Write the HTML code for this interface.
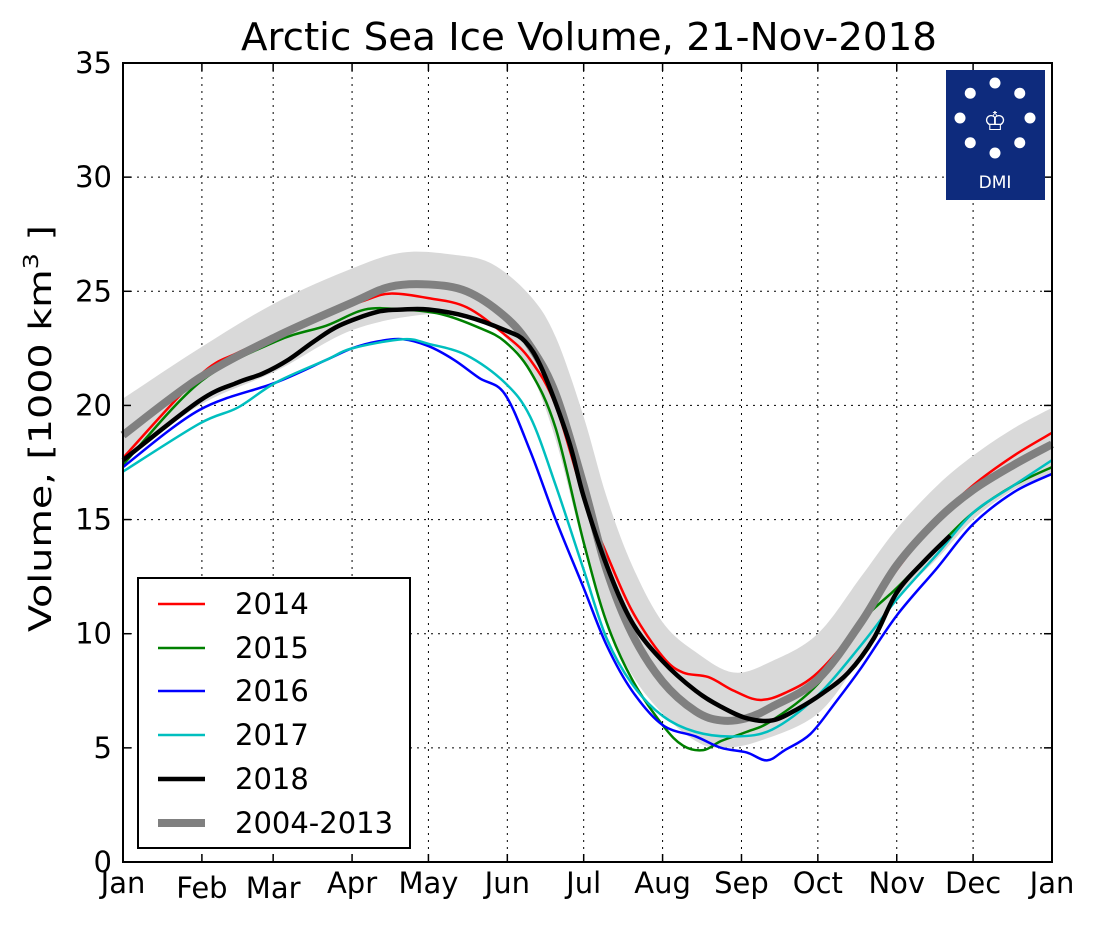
<!DOCTYPE html>
<html><head><meta charset="utf-8">
<style>
body{margin:0;background:#fff;}
svg text{font-family:"DejaVu Sans","Liberation Sans",sans-serif;fill:#000;}
</style></head><body>
<svg id="s" width="1098" height="928" viewBox="0 0 1098 928" xmlns="http://www.w3.org/2000/svg">
<rect width="1098" height="928" fill="#fff"/>
<g id="grid"></g>
<path id="band" fill="#d9d9d9" stroke="none"/>
<g id="lines"></g>
<rect x="123" y="63" width="929" height="799" fill="none" stroke="#000" stroke-width="2"/>
<g id="ticks"></g>
<text x="241" y="50" font-size="38" textLength="696" lengthAdjust="spacingAndGlyphs">Arctic Sea Ice Volume, 21-Nov-2018</text>
<text transform="translate(51,632) rotate(-90)" font-size="31" textLength="407" lengthAdjust="spacingAndGlyphs">Volume, [1000 km<tspan dy="-13" font-size="20">3</tspan><tspan dy="13"> ]</tspan></text>
<g>
<rect x="946" y="70" width="99" height="130" fill="#0e2b7d"/>
<g fill="#fff" id="dots"></g>
<text x="995" y="188" font-size="17" text-anchor="middle" style="fill:#fff">DMI</text>
<text x="995" y="130" font-size="26" text-anchor="middle" style="fill:#fff">♔</text>
</g>
<g>
<rect x="138" y="578" width="272" height="270" fill="#fff" stroke="#000" stroke-width="2"/>
<g font-size="29">
<line x1="158" y1="604" x2="205" y2="604" stroke="#f00" stroke-width="2.5"/><text x="235" y="614">2014</text>
<line x1="158" y1="648" x2="205" y2="648" stroke="#008000" stroke-width="2.5"/><text x="235" y="658">2015</text>
<line x1="158" y1="691" x2="205" y2="691" stroke="#00f" stroke-width="2.5"/><text x="235" y="701">2016</text>
<line x1="158" y1="735" x2="205" y2="735" stroke="#00bfbf" stroke-width="2.5"/><text x="235" y="745">2017</text>
<line x1="158" y1="779" x2="205" y2="779" stroke="#000" stroke-width="4.5"/><text x="235" y="789">2018</text>
<line x1="158" y1="823" x2="205" y2="823" stroke="#808080" stroke-width="8"/><text x="235" y="833">2004-2013</text>
</g>
</g>
</svg>
<script>
var NS="http://www.w3.org/2000/svg";
function X(d){return 123+d*929/365;}
function Y(v){return 862-v*799/35;}
function el(p,t,a){var e=document.createElementNS(NS,t);for(var k in a)e.setAttribute(k,a[k]);p.appendChild(e);return e;}
var months=[0,31,59,90,120,151,181,212,243,273,304,334,365];
var mn=["Jan","Feb","Mar","Apr","May","Jun","Jul","Aug","Sep","Oct","Nov","Dec","Jan"];
var g=document.getElementById("grid"),tk=document.getElementById("ticks");
months.forEach(function(d,i){var x=X(d);
 if(i>0&&i<12)el(g,"line",{x1:x,y1:63,x2:x,y2:862,stroke:"#000","stroke-width":1,"stroke-dasharray":"2,5"});
 el(tk,"line",{x1:x,y1:862,x2:x,y2:854,stroke:"#000","stroke-width":1.5});
 el(tk,"line",{x1:x,y1:63,x2:x,y2:71,stroke:"#000","stroke-width":1.5});
 var t=el(tk,"text",{x:x,y:(i==1||i==2)?898:893,"font-size":29,"text-anchor":"middle"});t.textContent=mn[i];});
for(var v=0;v<=35;v+=5){var y=Y(v);
 if(v>0&&v<35)el(g,"line",{x1:123,y1:y,x2:1052,y2:y,stroke:"#000","stroke-width":1,"stroke-dasharray":"2,5"});
 el(tk,"line",{x1:123,y1:y,x2:131,y2:y,stroke:"#000","stroke-width":1.5});
 el(tk,"line",{x1:1052,y1:y,x2:1044,y2:y,stroke:"#000","stroke-width":1.5});
 var t=el(tk,"text",{x:112,y:y+10,"font-size":29,"text-anchor":"end"});t.textContent=v;}
function pts(a){var r=[];for(var i=0;i<a.length;i+=2)r.push([X(a[i]),Y(a[i+1])]);return r;}
function cr(p,start){var s=start?"M"+p[0][0]+","+p[0][1]:"L"+p[0][0]+","+p[0][1];
 for(var i=0;i<p.length-1;i++){var p0=p[i-1]||p[i],p1=p[i],p2=p[i+1],p3=p[i+2]||p2;
 s+="C"+(p1[0]+(p2[0]-p0[0])/6)+","+(p1[1]+(p2[1]-p0[1])/6)+" "+(p2[0]-(p3[0]-p1[0])/6)+","+(p2[1]-(p3[1]-p1[1])/6)+" "+p2[0]+","+p2[1];}
 return s;}
var up=pts([0,20.3,30,22.5,60,24.5,90,26.0,110,26.7,130,26.6,145,26.2,160,24.8,170,23.0,181,19.5,190,16,200,13,212,10.5,225,9.2,240,8.3,255,8.8,273,10.0,290,12.5,304,14.6,320,16.5,334,17.8,350,19.0,365,19.9]);
var lo=pts([0,17.5,30,20.0,60,21.5,90,23.3,120,24.0,140,23.8,150,23.0,160,21.5,170,18.5,181,13.8,190,10.5,200,8.2,212,6.5,225,5.3,235,5.0,250,5.3,273,6.5,290,9.0,304,11.5,320,13.3,334,15.0,350,16.3,365,17.0]);
document.getElementById("band").setAttribute("d",cr(up,true)+cr(lo.reverse(),false)+"Z");
var L=document.getElementById("lines");
var S=[
["#f00",2.5,[0,17.7,30,21.3,45,22.3,60,23.0,80,24.0,95,24.6,105,24.9,120,24.7,135,24.3,150,23.1,160,22.0,170,20.0,181,16.0,190,13.5,200,11.0,212,9.0,220,8.3,230,8.1,240,7.5,250,7.1,260,7.4,273,8.3,290,10.5,304,12.8,320,15.0,334,16.5,350,17.8,365,18.8]],
["#008000",2.5,[0,17.4,30,21.0,60,22.8,80,23.5,95,24.2,110,24.2,125,24.0,140,23.4,150,22.8,160,21.5,170,19.0,181,14.0,190,10.5,200,8.0,212,6.0,220,5.1,228,4.9,235,5.3,245,5.7,255,6.2,273,7.8,290,10.5,304,12.0,320,13.8,334,15.3,350,16.5,365,17.3]],
["#00f",2.5,[0,17.3,30,19.8,60,21.0,80,22.0,90,22.5,100,22.8,110,22.9,120,22.6,130,22.0,140,21.2,150,20.5,160,18.0,170,15.0,181,12.0,190,9.5,200,7.5,212,6.0,225,5.5,235,5.0,245,4.8,253,4.45,260,4.9,270,5.6,280,7.0,290,8.5,304,10.8,320,12.9,334,14.8,350,16.2,365,17.0]],
["#00bfbf",2.5,[0,17.1,30,19.2,45,19.9,60,21.0,80,22.0,90,22.5,110,22.9,120,22.7,135,22.2,150,21.0,160,19.5,170,16.5,181,12.8,190,9.8,200,7.8,212,6.4,225,5.7,240,5.5,255,5.8,273,7.3,290,9.5,304,11.5,320,13.5,334,15.3,350,16.5,365,17.6]],
["#808080",8,[0,18.7,30,21.2,60,23.0,90,24.5,105,25.2,120,25.3,135,25.0,150,23.9,160,22.6,170,20.5,181,16.5,190,12.8,200,10.0,212,7.9,225,6.6,235,6.2,245,6.3,255,6.8,273,8.0,290,10.5,304,13.0,320,15.0,334,16.3,350,17.4,365,18.3]],
["#000",4.5,[0,17.6,30,20.2,45,21.0,55,21.4,65,22.0,75,22.8,85,23.5,100,24.1,110,24.2,120,24.2,135,23.9,150,23.3,158,22.8,165,21.5,175,18.5,181,16.0,190,13.0,200,10.5,212,8.8,225,7.5,235,6.8,245,6.3,255,6.2,265,6.7,275,7.4,285,8.3,295,9.8,304,11.8,315,13.2,325,14.3]]];
S.forEach(function(s){el(L,"path",{d:cr(pts(s[2]),true),fill:"none",stroke:s[0],"stroke-width":s[1],"stroke-linejoin":"round"});});
var D=document.getElementById("dots");
for(var i=0;i<8;i++){var a=i*Math.PI/4;el(D,"circle",{cx:995+35*Math.sin(a),cy:118-35*Math.cos(a),r:5.5});}
</script>
</body></html>
